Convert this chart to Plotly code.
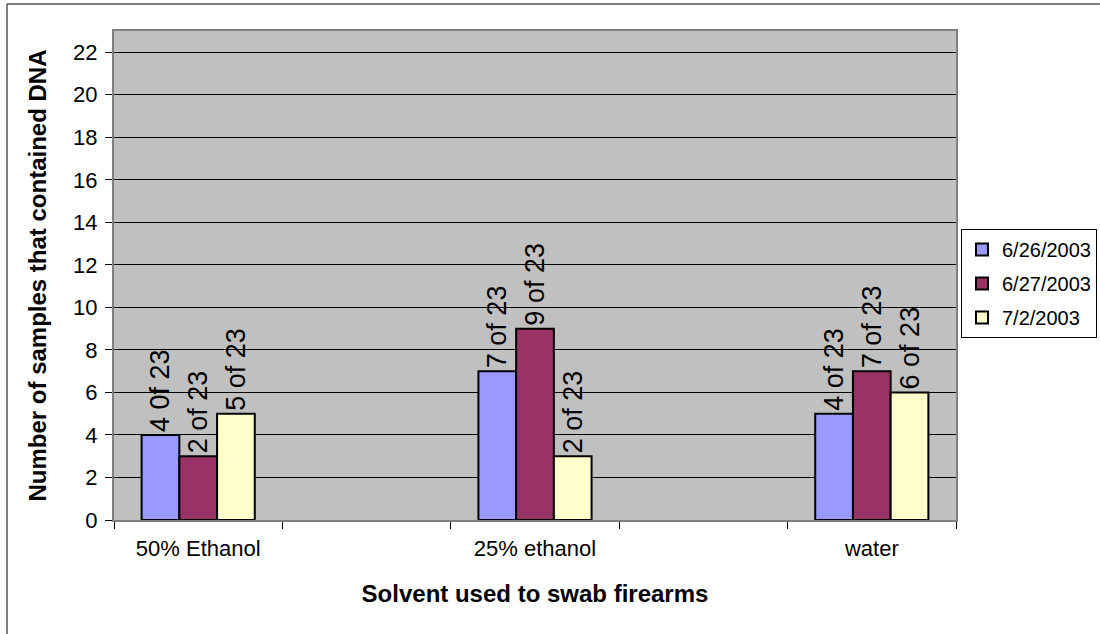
import plotly.graph_objects as go

categories = ["50% Ethanol", "25% ethanol", "water"]
series_names = ["6/26/2003", "6/27/2003", "7/2/2003"]
vals_0626 = [4, 7, 5]
vals_0627 = [3, 9, 7]
vals_0702 = [5, 3, 6]
labels_0626 = ["4 0f 23", "7 of 23", "4 of 23"]
labels_0627 = ["2 of 23", "9 of 23", "7 of 23"]
labels_0702 = ["5 of 23", "2 of 23", "6 of 23"]
colors = ["#9999FF", "#993366", "#FFFFCC"]

xpos = [2 * i for i in range(len(categories))]
FONT = "Arial, Liberation Sans, sans-serif"

fig = go.Figure()
for name, vals, labs, col in zip(series_names,
                                  [vals_0626, vals_0627, vals_0702],
                                  [labels_0626, labels_0627, labels_0702],
                                  colors):
    fig.add_trace(go.Bar(
        x=xpos, y=vals, name=name, text=labs, legendgroup=name,
        textposition="outside", textangle=-90, constraintext="none",
        textfont=dict(family=FONT, size=27, color="black"),
        marker=dict(color=col, line=dict(color="black", width=2)),
        cliponaxis=False,
    ))

W, H = 1100, 634
L, R, T, B = 114, 144, 31, 114
pw, ph = W - L - R, H - T - B

fig.update_layout(
    width=W, height=H,
    margin=dict(l=L, r=R, t=T, b=B, autoexpand=False),
    paper_bgcolor="white",
    plot_bgcolor="#C0C0C0",
    barmode="group",
    bargap=0.664,
    bargroupgap=0,
    font=dict(family=FONT, size=22, color="black"),
    showlegend=True,
    legend=dict(
        x=(961 - L) / pw, y=(H - B - 229) / ph,
        xanchor="left", yanchor="top",
        bgcolor="white", bordercolor="black", borderwidth=1,
        font=dict(family=FONT, size=20, color="black"),
        itemwidth=30, tracegroupgap=5,
    ),
    xaxis=dict(
        range=[-0.5, 4.5], automargin=False,
        tickmode="array", tickvals=xpos, ticktext=categories,
        ticks="", showgrid=False, zeroline=False,
        showline=True, linecolor="#808080", linewidth=2, mirror=True,
        tickfont=dict(family=FONT, size=22), ticklabelstandoff=8,
        minor=dict(tickmode="linear", tick0=-0.5, dtick=1, ticks="outside",
                   ticklen=7, tickcolor="black", tickwidth=1, showgrid=False),
        title=dict(text="<b>Solvent used to swab firearms</b>",
                   font=dict(family=FONT, size=24), standoff=25),
    ),
    yaxis=dict(
        range=[0, 23], tickmode="linear", tick0=0, dtick=2, automargin=False,
        ticks="outside", ticklen=7, tickcolor="black",
        showgrid=True, gridcolor="black", gridwidth=1,
        zeroline=False,
        showline=True, linecolor="#808080", linewidth=2, mirror=True,
        tickfont=dict(family=FONT, size=22), ticklabelstandoff=3,
        title=dict(text="<b>Number of samples that contained DNA</b>",
                   font=dict(family=FONT, size=24), standoff=20),
    ),
    shapes=[
        dict(type="line", xref="paper", yref="paper",
             x0=(7 - L) / pw, x1=(W + 10 - L) / pw,
             y0=(H - B - 4) / ph, y1=(H - B - 4) / ph,
             line=dict(color="black", width=1)),
        dict(type="line", xref="paper", yref="paper",
             x0=(7 - L) / pw, x1=(7 - L) / pw,
             y0=(H - B - 4) / ph, y1=-(B + 10) / ph,
             line=dict(color="black", width=1)),
    ],
)

fig.write_html("out.html",
               config={"displayModeBar": False},
               post_script="document.body.style.margin='0';document.body.style.overflow='hidden';")
